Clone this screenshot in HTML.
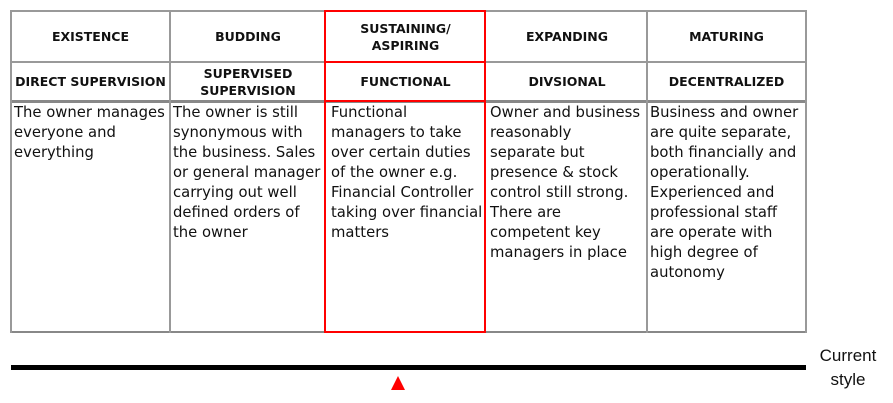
<!DOCTYPE html>
<html><head><meta charset="utf-8"><style>
body{margin:0;width:893px;height:403px;background:#fff;position:relative;overflow:hidden;font-family:"DejaVu Sans","Liberation Sans",sans-serif;}
.l{position:absolute;background:#999;}
.h{position:absolute;font-weight:bold;font-size:12.5px;text-align:center;color:#111;display:flex;align-items:center;justify-content:center;line-height:17px;}
.t{position:absolute;font-size:14.8px;line-height:20px;color:#111;letter-spacing:0;white-space:nowrap;}
</style></head><body>
<div class="l" style="left:10px;top:10px;width:797px;height:2px"></div>
<div class="l" style="left:10px;top:61px;width:797px;height:2px"></div>
<div class="l" style="left:10px;top:100px;width:797px;height:3px;background:#888"></div>
<div class="l" style="left:10px;top:331px;width:797px;height:2px;background:#888"></div>
<div class="l" style="left:10px;top:10px;width:2px;height:323px"></div>
<div class="l" style="left:169px;top:10px;width:2px;height:323px"></div>
<div class="l" style="left:646px;top:10px;width:2px;height:323px"></div>
<div class="l" style="left:805px;top:10px;width:2px;height:323px"></div>
<div style="position:absolute;left:324px;top:10px;width:158px;height:319px;border:2px solid #f00;"></div>
<div style="position:absolute;left:324px;top:61px;width:162px;height:2px;background:#f00"></div>
<div style="position:absolute;left:324px;top:100px;width:162px;height:2px;background:#f00"></div>
<div class="h" style="left:12px;top:12px;width:157px;height:49px">EXISTENCE</div>
<div class="h" style="left:171px;top:12px;width:154px;height:49px">BUDDING</div>
<div class="h" style="left:327px;top:12px;width:157px;height:49px">SUSTAINING/<br>ASPIRING</div>
<div class="h" style="left:488px;top:12px;width:158px;height:49px">EXPANDING</div>
<div class="h" style="left:648px;top:12px;width:157px;height:49px">MATURING</div>
<div class="h" style="left:12px;top:63px;width:157px;height:37px">DIRECT SUPERVISION</div>
<div class="h" style="left:171px;top:63px;width:154px;height:37px">SUPERVISED<br>SUPERVISION</div>
<div class="h" style="left:327px;top:63px;width:157px;height:37px">FUNCTIONAL</div>
<div class="h" style="left:488px;top:63px;width:158px;height:37px">DIVSIONAL</div>
<div class="h" style="left:648px;top:63px;width:157px;height:37px">DECENTRALIZED</div>
<div class="t" style="left:14px;top:103px">The owner manages<br>everyone and<br>everything</div>
<div class="t" style="left:173px;top:103px">The owner is still<br>synonymous with<br>the business. Sales<br>or general manager<br>carrying out well<br>defined orders of<br>the owner</div>
<div class="t" style="left:331px;top:103px">Functional<br>managers to take<br>over certain duties<br>of the owner e.g.<br>Financial Controller<br>taking over financial<br>matters</div>
<div class="t" style="left:490px;top:103px">Owner and business<br>reasonably<br>separate but<br>presence &amp; stock<br>control still strong.<br>There are<br>competent key<br>managers in place</div>
<div class="t" style="left:650px;top:103px">Business and owner<br>are quite separate,<br>both financially and<br>operationally.<br>Experienced and<br>professional staff<br>are operate with<br>high degree of<br>autonomy</div>
<div style="position:absolute;left:11px;top:365px;width:795px;height:5px;background:#000"></div>
<div style="position:absolute;left:391px;top:376px;width:0;height:0;border-left:7px solid transparent;border-right:7px solid transparent;border-bottom:14px solid #f00"></div>
<div style="position:absolute;left:808px;top:344px;width:80px;text-align:center;font-family:'Liberation Sans',sans-serif;font-size:17px;line-height:24px;color:#111">Current<br>style</div>
</body></html>
